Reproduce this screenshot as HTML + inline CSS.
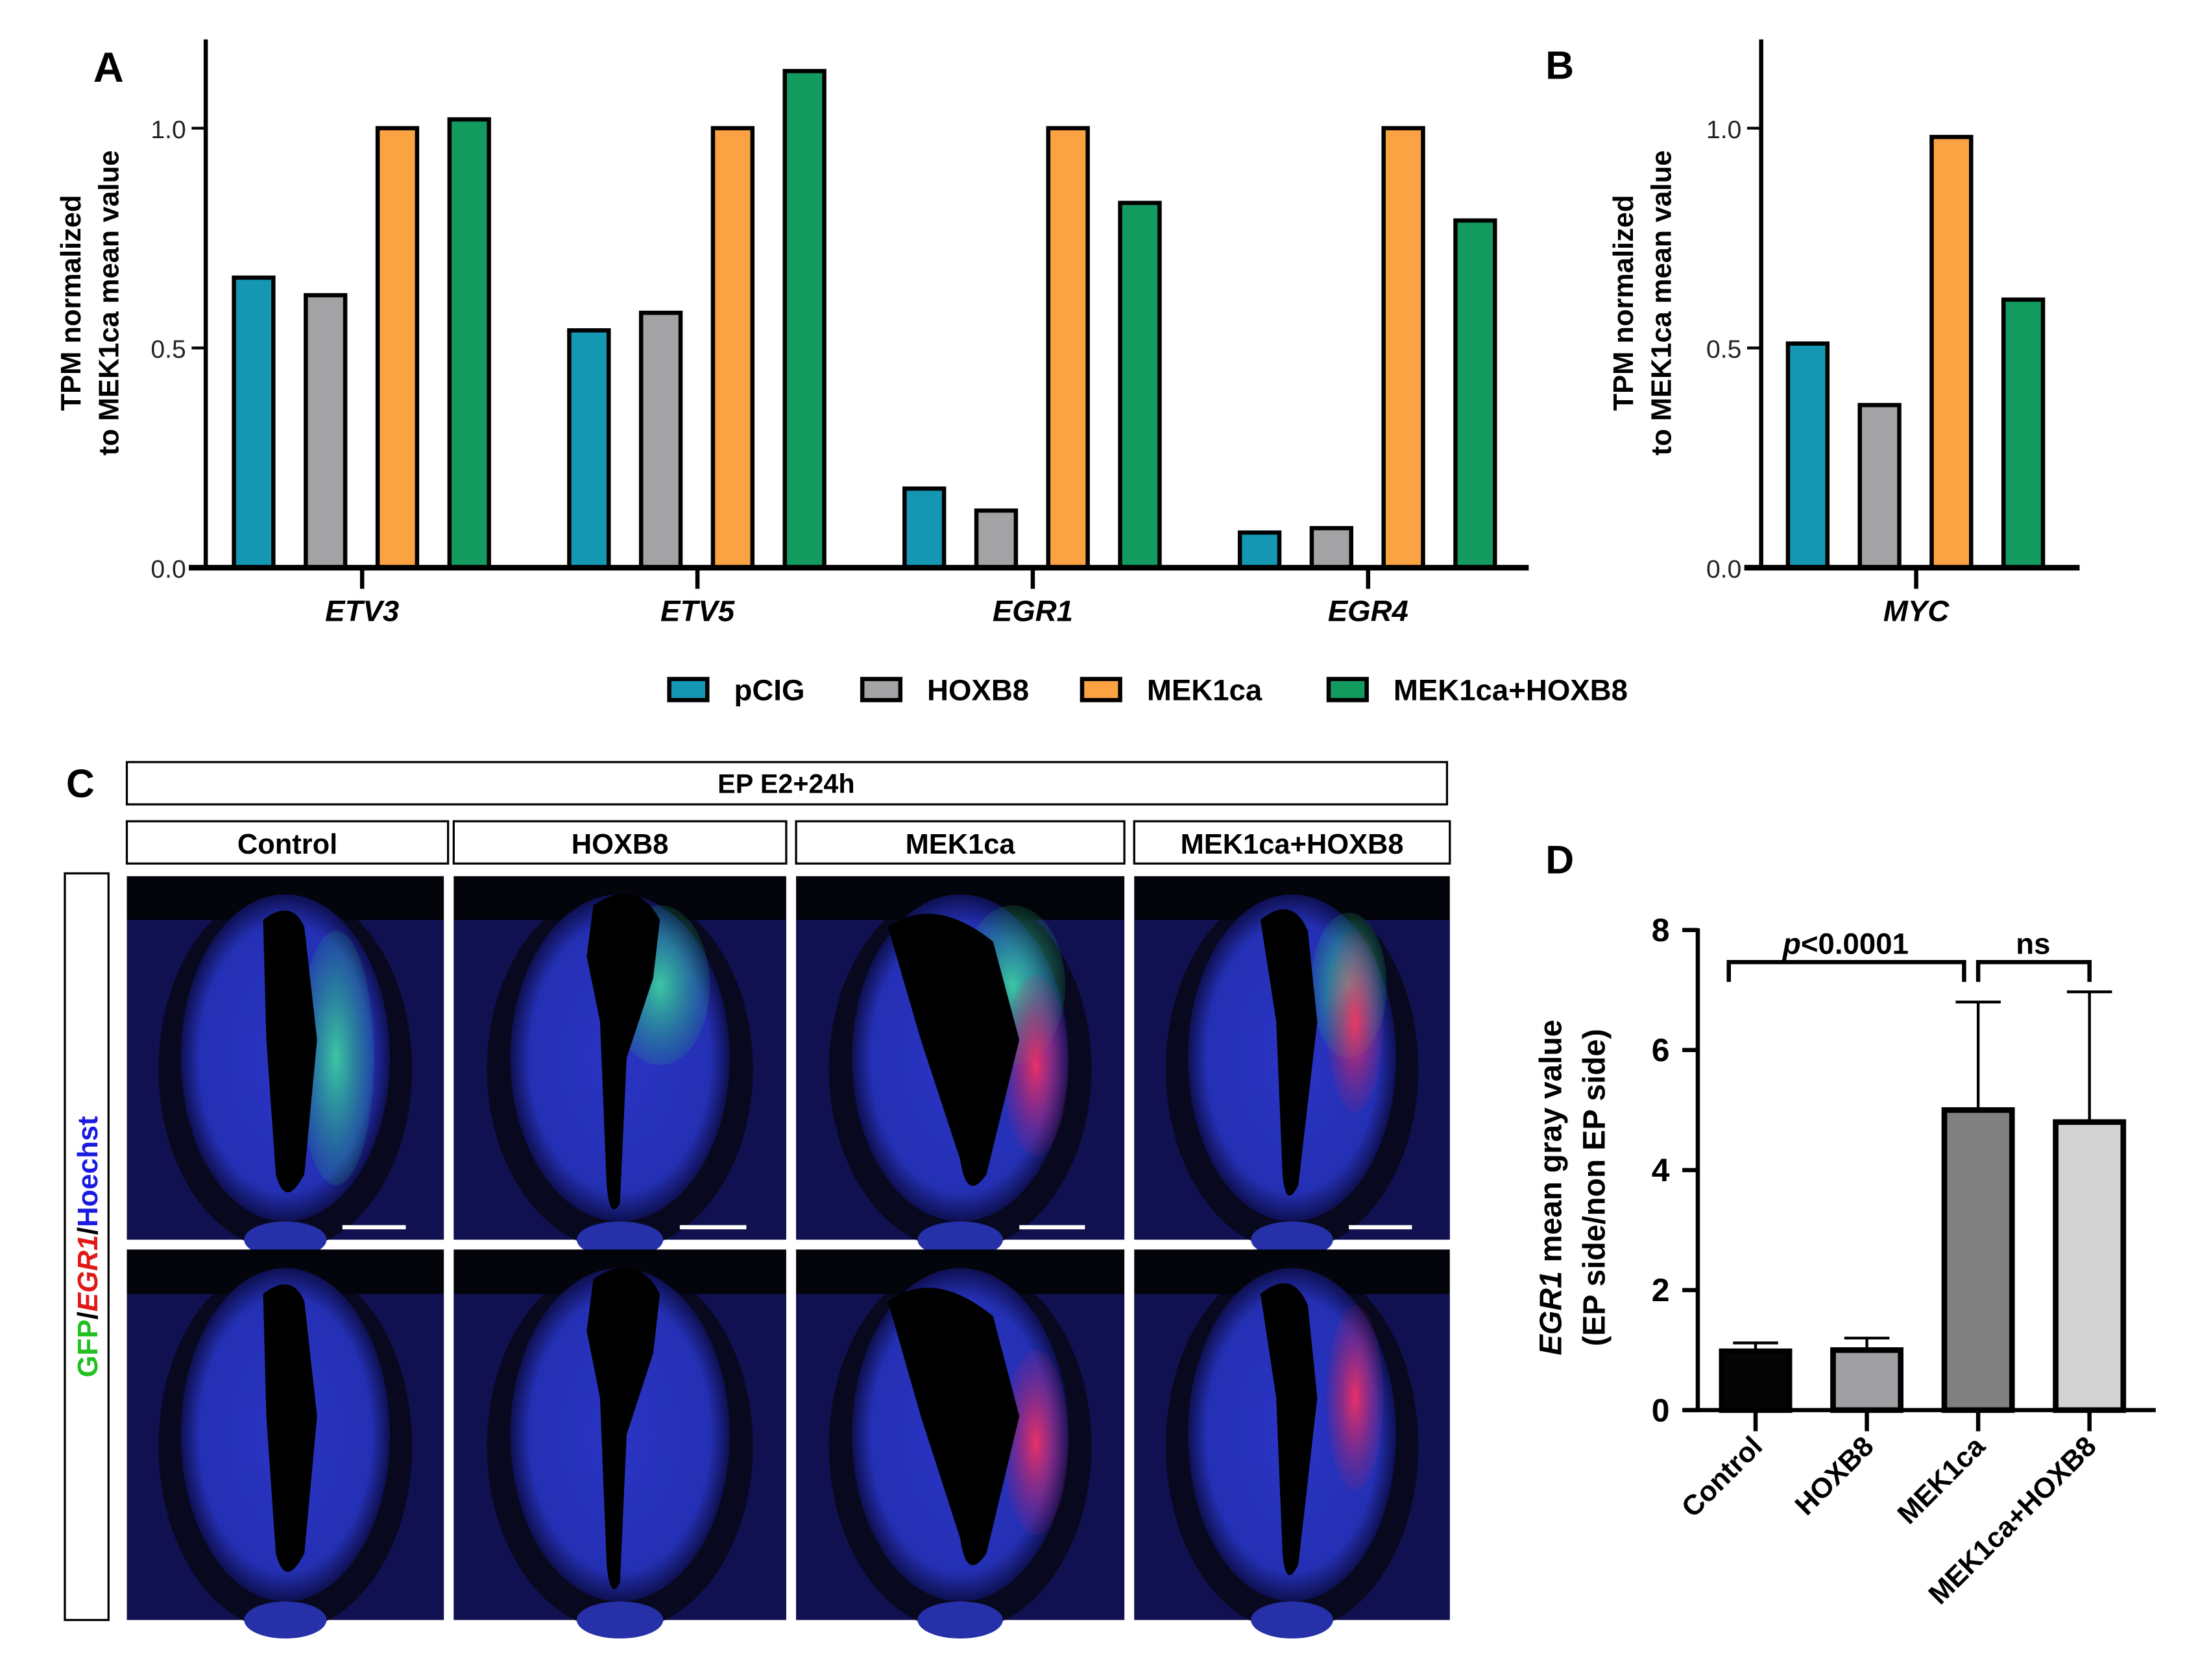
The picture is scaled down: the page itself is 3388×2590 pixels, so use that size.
<!DOCTYPE html>
<html><head><meta charset="utf-8">
<style>
html,body{margin:0;padding:0;background:#fff;}
svg{display:block;font-family:"Liberation Sans",Arial,sans-serif;}
.b{font-weight:bold;}
</style></head>
<body>
<svg id="fig" width="3388" height="2590" viewBox="0 0 1560 1192.6" xmlns="http://www.w3.org/2000/svg">
<defs>
  <radialGradient id="tubeG" cx="50%" cy="50%" r="50%">
    <stop offset="0%" stop-color="#2a34c4"/><stop offset="82%" stop-color="#2430b4"/><stop offset="100%" stop-color="#0e1050"/>
  </radialGradient>
  <radialGradient id="grnG" cx="50%" cy="50%" r="50%">
    <stop offset="0%" stop-color="#40e0a0" stop-opacity="0.85"/><stop offset="100%" stop-color="#20c070" stop-opacity="0.15"/>
  </radialGradient>
  <radialGradient id="redG" cx="50%" cy="50%" r="50%">
    <stop offset="0%" stop-color="#ff3060" stop-opacity="0.9"/><stop offset="100%" stop-color="#c02060" stop-opacity="0.1"/>
  </radialGradient>
</defs>
<g id="panelA"></g>
<g id="panelB"></g>
<g id="legend"></g>
<g id="panelC"></g>
<g id="panelD"></g>
</svg>
<script>
const NS="http://www.w3.org/2000/svg";
function mk(parent,tag,attrs,text){const e=document.createElementNS(NS,tag);for(const k in attrs)e.setAttribute(k,attrs[k]);if(text!==undefined)e.textContent=text;parent.appendChild(e);return e;}

// ---------- DATA ----------
const genesA=["ETV3","ETV5","EGR1","EGR4"];
const seriesNames=["pCIG","HOXB8","MEK1ca","MEK1ca+HOXB8"];
const pCIG=[0.66,0.54,0.18,0.08];
const HOXB8=[0.62,0.58,0.13,0.09];
const MEK1ca=[1.0,1.0,1.0,1.0];
const MEK1caHOXB8=[1.02,1.13,0.83,0.79];
const genesB=["MYC"];
const mycValues=[0.51,0.37,0.98,0.61];
const tickA=[0.0,0.5,1.0];
const tickLabelsA=["0.0","0.5","1.0"];
const colors=["#1597b4","#a3a3a6","#fba343","#139a5e"];

const groupsD=["Control","HOXB8","MEK1ca","MEK1ca+HOXB8"];
const meansD=[0.98,1.0,5.0,4.8];
const errTopD=[1.12,1.2,6.8,6.97];
const ticksD=[0,2,4,6,8];
const colorsD=["#050505","#a0a0a4","#808080","#d3d3d3"];

// ---------- PANEL A ----------
const A=document.getElementById('panelA');
const yA=v=>403-v*312;
const xA=i=>257+i*238;
const offs=[-77,-26,25,76];
const allA=[pCIG,HOXB8,MEK1ca,MEK1caHOXB8];
let t=mk(A,'text',{x:77,y:58,'font-size':30,class:'b','text-anchor':'middle'},'A');

genesA.forEach((g,gi)=>{
  allA.forEach((s,si)=>{
    const r=mk(A,'rect',{x:xA(gi)+offs[si]-14,y:yA(s[gi]),width:28,height:403-yA(s[gi]),fill:colors[si],stroke:'#000','stroke-width':3});
    
    
  });
  const tk=mk(A,'line',{x1:xA(gi),x2:xA(gi),y1:403,y2:418,stroke:'#000','stroke-width':3});
  
  const l=mk(A,'text',{x:xA(gi),y:441,'font-size':21,class:'b','font-style':'italic','text-anchor':'middle'},g);
  
});
let ax=mk(A,'line',{x1:146,x2:146,y1:28,y2:405,stroke:'#000','stroke-width':3});

ax=mk(A,'line',{x1:134,x2:1085,y1:403,y2:403,stroke:'#000','stroke-width':4});

tickA.forEach((v,i)=>{
  const tt=mk(A,'text',{x:132,y:yA(v)+7,'font-size':18,'text-anchor':'end',fill:'#222'},tickLabelsA[i]);
  
  const tl=mk(A,'line',{x1:136,x2:146,y1:yA(v),y2:yA(v),stroke:'#000','stroke-width':2});
  
});
function yTitle(g,cx,cy,lines,fs,gap){
  const tx=mk(g,'text',{transform:`translate(${cx},${cy}) rotate(-90)`,'font-size':fs,class:'b','text-anchor':'middle'});
  
  lines.forEach((ln,i)=>{const s=mk(tx,'tspan',{x:0,y:i*gap});if(typeof ln==='string')s.textContent=ln;else ln(s);});
  return tx;
}
yTitle(A,57,215,["TPM normalized","to MEK1ca mean value"],20,27);

// ---------- PANEL B ----------
const B=document.getElementById('panelB');
const xB=1360;
t=mk(B,'text',{x:1107,y:56,'font-size':28,class:'b','text-anchor':'middle'},'B');

mycValues.forEach((v,si)=>{
  const r=mk(B,'rect',{x:xB+offs[si]-14,y:yA(v),width:28,height:403-yA(v),fill:colors[si],stroke:'#000','stroke-width':3});
  
  
});
ax=mk(B,'line',{x1:1250,x2:1250,y1:28,y2:405,stroke:'#000','stroke-width':3});

ax=mk(B,'line',{x1:1238,x2:1476,y1:403,y2:403,stroke:'#000','stroke-width':4});

tickA.forEach((v,i)=>{
  const tt=mk(B,'text',{x:1236,y:yA(v)+7,'font-size':18,'text-anchor':'end',fill:'#222'},tickLabelsA[i]);
  
  const tl=mk(B,'line',{x1:1240,x2:1250,y1:yA(v),y2:yA(v),stroke:'#000','stroke-width':2});
  
});
let tk=mk(B,'line',{x1:xB,x2:xB,y1:403,y2:418,stroke:'#000','stroke-width':3});

t=mk(B,'text',{x:xB,y:441,'font-size':21,class:'b','font-style':'italic','text-anchor':'middle'},genesB[0]);

yTitle(B,1159,215,["TPM normalized","to MEK1ca mean value"],20,27);

// ---------- LEGEND ----------
const L=document.getElementById('legend');
const legX=[475,612,768,943];
seriesNames.forEach((n,i)=>{
  const r=mk(L,'rect',{x:legX[i],y:482,width:27,height:15,fill:colors[i],stroke:'#000','stroke-width':3});
  
  const tx=mk(L,'text',{x:legX[i]+46,y:497,'font-size':21,class:'b'},n);
  
});

// ---------- PANEL C ----------
const C=document.getElementById('panelC');
t=mk(C,'text',{x:57,y:566,'font-size':28,class:'b','text-anchor':'middle'},'C');

let hb=mk(C,'rect',{x:90,y:541,width:937,height:30,fill:'#fff',stroke:'#000','stroke-width':1.5});

t=mk(C,'text',{x:558,y:563,'font-size':19,class:'b','text-anchor':'middle'},'EP E2+24h');

const cols=[[90,318],[322,558],[565,798],[805,1029]];
const colNames=["Control","HOXB8","MEK1ca","MEK1ca+HOXB8"];
cols.forEach((c,i)=>{
  const r=mk(C,'rect',{x:c[0],y:583,width:c[1]-c[0],height:30,fill:'#fff',stroke:'#000','stroke-width':1.5});
  
  const tx=mk(C,'text',{x:(c[0]+c[1])/2,y:606,'font-size':20,class:'b','text-anchor':'middle'},colNames[i]);
  
});
let lb=mk(C,'rect',{x:46,y:620,width:31,height:530,fill:'#fff',stroke:'#000','stroke-width':1.5});

const ch=mk(C,'text',{transform:'translate(69,885) rotate(-90)','font-size':20,class:'b','text-anchor':'middle'});

mk(ch,'tspan',{fill:'#22c022'},'GFP');mk(ch,'tspan',{fill:'#000'},'/');
mk(ch,'tspan',{fill:'#e01818','font-style':'italic'},'EGR1');mk(ch,'tspan',{fill:'#000'},'/');
mk(ch,'tspan',{fill:'#1a1ae0'},'Hoechst');
const rows=[[622,880],[887,1150]];
const lumen=[
 "M0.43,0.12 Q0.52,0.06 0.56,0.14 L0.6,0.45 L0.56,0.82 Q0.5,0.92 0.47,0.82 L0.44,0.45 Z",
 "M0.42,0.08 Q0.55,0.0 0.62,0.12 L0.6,0.28 L0.52,0.5 L0.5,0.9 Q0.47,0.95 0.46,0.85 L0.44,0.4 L0.4,0.22 Z",
 "M0.28,0.14 Q0.42,0.05 0.6,0.18 L0.68,0.45 L0.58,0.82 Q0.52,0.9 0.5,0.78 L0.38,0.45 Z",
 "M0.4,0.12 Q0.5,0.05 0.55,0.15 L0.58,0.4 L0.52,0.85 Q0.48,0.92 0.47,0.82 L0.45,0.4 Z"];
rows.forEach((rw,ri)=>{
  cols.forEach((c,ci)=>{
    const x0=c[0], x1=ci===0?315:c[1]; const w=x1-x0, h=rw[1]-rw[0], y0=rw[0];
    const g=mk(C,'g',{transform:`translate(${x0},${y0})`});
    
    
    mk(g,'rect',{x:0,y:0,width:w,height:h,fill:'#03030a'});
    mk(g,'rect',{x:0,y:h*0.12,width:w,height:h*0.88,fill:'#1a1a80',opacity:0.6});
    mk(g,'ellipse',{cx:w*0.5,cy:h*0.53,rx:w*0.4,ry:h*0.5,fill:'#05050f',opacity:0.75});
    mk(g,'ellipse',{cx:w*0.5,cy:h*0.5,rx:w*0.33,ry:h*0.45,fill:'url(#tubeG)'});
    mk(g,'ellipse',{cx:w*0.5,cy:h*1.0,rx:w*0.13,ry:h*0.05,fill:'#2630a8'});
    if(ri===0){
      if(ci===0) mk(g,'ellipse',{cx:w*0.66,cy:h*0.5,rx:w*0.12,ry:h*0.35,fill:'url(#grnG)'});
      if(ci===1) mk(g,'ellipse',{cx:w*0.62,cy:h*0.3,rx:w*0.15,ry:h*0.22,fill:'url(#grnG)'});
      if(ci===2) mk(g,'ellipse',{cx:w*0.66,cy:h*0.3,rx:w*0.16,ry:h*0.22,fill:'url(#grnG)'});
      if(ci===3) mk(g,'ellipse',{cx:w*0.68,cy:h*0.3,rx:w*0.12,ry:h*0.2,fill:'url(#grnG)'});
    }
    if(ci===2) mk(g,'ellipse',{cx:w*0.73,cy:h*0.52,rx:w*0.1,ry:h*0.25,fill:'url(#redG)'});
    if(ci===3) mk(g,'ellipse',{cx:w*0.7,cy:h*0.4,rx:w*0.09,ry:h*0.25,fill:'url(#redG)'});
    mk(g,'path',{d:lumen[ci],fill:'#000',transform:`scale(${w},${h})`});
    if(ri===0){const sb=mk(g,'rect',{x:w*0.68,y:h*0.96,width:w*0.2,height:3,fill:'#fff'});
      }
  });
});

// ---------- PANEL D ----------
const D=document.getElementById('panelD');
const yD=v=>1001-v*42.6;
const xD=i=>1246+i*79;
t=mk(D,'text',{x:1107,y:620,'font-size':28,class:'b','text-anchor':'middle'},'D');

groupsD.forEach((gname,i)=>{
  const eb=mk(D,'path',{d:`M${xD(i)},${yD(meansD[i])} V${yD(errTopD[i])} M${xD(i)-16},${yD(errTopD[i])} H${xD(i)+16}`,stroke:'#000','stroke-width':2,fill:'none'});
  
  const r=mk(D,'rect',{x:xD(i)-24,y:yD(meansD[i]),width:48,height:1001-yD(meansD[i]),fill:colorsD[i],stroke:'#000','stroke-width':4});
  
  const tk2=mk(D,'line',{x1:xD(i),x2:xD(i),y1:1001,y2:1016,stroke:'#000','stroke-width':3});
  
  const tx=mk(D,'text',{transform:`translate(${xD(i)+6},${1028}) rotate(-45)`,'font-size':20,class:'b','text-anchor':'end'},gname);
  
});
ax=mk(D,'line',{x1:1205,x2:1205,y1:659,y2:1002,stroke:'#000','stroke-width':3});

ax=mk(D,'line',{x1:1195,x2:1530,y1:1001,y2:1001,stroke:'#000','stroke-width':3});

ticksD.forEach(v=>{
  const tl=mk(D,'line',{x1:1194,x2:1205,y1:yD(v),y2:yD(v),stroke:'#000','stroke-width':3});
  
  const tt=mk(D,'text',{x:1185,y:yD(v)+8,'font-size':23,class:'b','text-anchor':'end'},String(v));
  
});
let br=mk(D,'path',{d:`M${xD(0)-19},697 V683 H${xD(2)-10} V697`,stroke:'#000','stroke-width':3,fill:'none'});

br=mk(D,'path',{d:`M${xD(2)},697 V683 H${xD(3)} V697`,stroke:'#000','stroke-width':3,fill:'none'});

const pt=mk(D,'text',{x:1310,y:677,'font-size':21,class:'b','text-anchor':'middle'});

mk(pt,'tspan',{'font-style':'italic'},'p');mk(pt,'tspan',{},'<0.0001');
t=mk(D,'text',{x:1443,y:677,'font-size':21,class:'b','text-anchor':'middle'},'ns');

yTitle(D,1108,843,[s=>{mk(s,'tspan',{'font-style':'italic'},'EGR1');mk(s,'tspan',{},' mean gray value');},"(EP side/non EP side)"],22,31);
</script>
</body></html>
